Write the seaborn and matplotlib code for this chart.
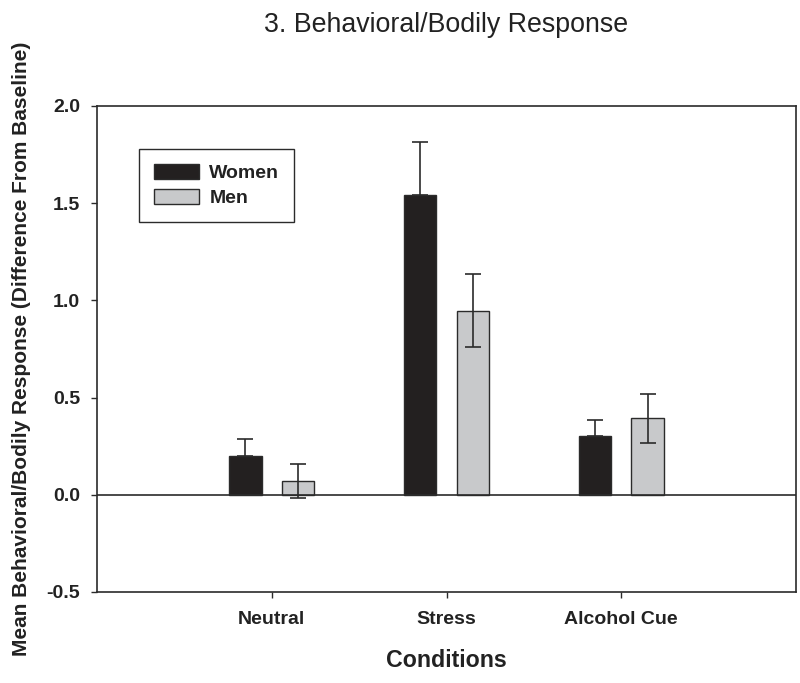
import matplotlib
matplotlib.use("Agg")
import matplotlib.pyplot as plt
import seaborn as sns
import pandas as pd

# ---- data ----
conditions = ["Neutral", "Stress", "Alcohol Cue"]
groups = ["Women", "Men"]
women_means = [0.20, 1.54, 0.30]
men_means = [0.072, 0.948, 0.394]
women_se = [0.085, 0.276, 0.085]
men_se = [0.086, 0.186, 0.126]
y_ticks = [-0.5, 0.0, 0.5, 1.0, 1.5, 2.0]
y_ticklabels = ["-0.5", "0.0", "0.5", "1.0", "1.5", "2.0"]

title = "3. Behavioral/Bodily Response"
xlabel = "Conditions"
ylabel = "Mean Behavioral/Bodily Response (Difference From Baseline)"

df = pd.DataFrame({
    "Condition": conditions * 2,
    "Group": ["Women"] * 3 + ["Men"] * 3,
    "Value": women_means + men_means,
})

sns.set_style("ticks")
plt.rcParams["font.family"] = ["Liberation Sans", "DejaVu Sans"]

DARK = "#2b2b2b"
colors = {"Women": "#231f20", "Men": "#c8c9cb"}

fig = plt.figure(figsize=(8.0, 6.83), dpi=100)
ax = fig.add_axes([97 / 800, 1 - 592 / 683, 699 / 800, 486 / 683])

sns.barplot(data=df, x="Condition", y="Value", hue="Group",
            order=conditions, hue_order=groups, palette=colors,
            width=0.604, gap=0.387, errorbar=None,
            edgecolor=DARK, linewidth=1.0, ax=ax, zorder=2)

ax.axhline(0, color=DARK, lw=1.2, zorder=3)

# error bars: women upper only, men both sides
for cont, se, both in zip(ax.containers, [women_se, men_se], [False, True]):
    for bar, e in zip(cont, se):
        xc = bar.get_x() + bar.get_width() / 2
        h = bar.get_height()
        yerr = [[e], [e]] if both else [[0], [e]]
        ax.errorbar([xc], [h], yerr=yerr, fmt="none", ecolor=DARK,
                    elinewidth=1.2, capsize=5.5, capthick=1.2, zorder=4)

ax.set_xlim(-1, 3)
ax.set_ylim(-0.5, 2.0)
ax.set_yticks(y_ticks)
ax.set_yticklabels(y_ticklabels)

for s in ax.spines.values():
    s.set_visible(True)
    s.set_color(DARK)
    s.set_linewidth(1.2)

ax.tick_params(axis="y", direction="out", length=4, width=1.0, color=DARK,
               labelsize=14, pad=8)
ax.tick_params(axis="x", direction="out", length=4.5, width=1.0, color=DARK,
               labelsize=14, pad=9)
for lab in ax.get_xticklabels() + ax.get_yticklabels():
    lab.set_fontweight("bold")
    lab.set_color("#222222")

ax.set_xlabel(xlabel, fontsize=16.7, fontweight="bold", color="#222222", labelpad=15)
ax.set_ylabel(ylabel, fontsize=15, fontweight="bold", color="#222222")
ax.yaxis.set_label_coords(-0.094, 0.5)
ax.set_title(title, fontsize=19.3, color="#222222", pad=53)

leg = ax.legend(loc="upper left", bbox_to_anchor=(0.0605, 0.911),
                borderaxespad=0, frameon=True, fancybox=False,
                edgecolor=DARK, framealpha=1, prop={"weight": "bold", "size": 14},
                handlelength=2.3, handleheight=0.8, handletextpad=0.55,
                labelspacing=0.35, borderpad=0.75)
leg.get_frame().set_linewidth(1.0)
for t in leg.get_texts():
    t.set_color("#222222")

fig.savefig("out.png", dpi=100)
